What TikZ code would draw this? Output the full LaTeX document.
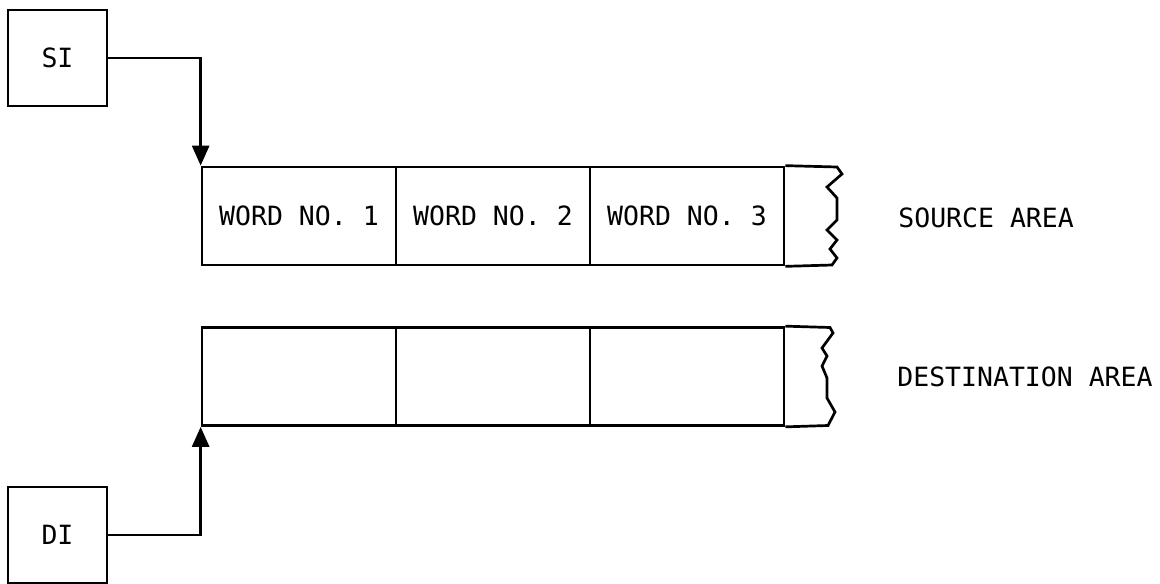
\documentclass[tikz,border=0pt]{standalone}
\usepackage{fontspec}
\newfontfamily\plotfont{DejaVu Sans Mono}
\usetikzlibrary{arrows.meta}
\begin{document}
\begin{tikzpicture}[x=1pt,y=-1pt, line width=2.7pt, line join=miter,
  txt/.style={font=\plotfont\fontsize{26.5}{30}\selectfont},
  regbox/.style={draw, txt, minimum width=99pt, minimum height=96pt, inner sep=0pt},
  cell/.style={draw, txt, minimum width=194pt, minimum height=98pt, inner sep=0pt},
  lbl/.style={txt, anchor=west, inner sep=0pt},
  arr/.style={-{Triangle[length=20pt,width=17pt]}}]
\useasboundingbox (0,0) rectangle (1160,584);
% registers
\node[regbox] (SI) at (57.5,58) {SI};
\node[regbox] (DI) at (57.5,535) {DI};
% source area
\node[cell] (s1) at (299,216) {WORD NO. 1};
\node[cell] (s2) at (493,216) {WORD NO. 2};
\node[cell] (s3) at (687,216) {WORD NO. 3};
\draw (s3.north east) -- (837,167) -- (842,174) -- (827,187) -- (837,198) -- (837,220)
  -- (827,230) -- (837,240) -- (830,249) -- (837,258) -- (832,265) -- (s3.south east);
\node[lbl] (src) at (897,218) {SOURCE AREA};
% destination area
\node[cell] (d1) at (299,376.5) {};
\node[cell] (d2) at (493,376.5) {};
\node[cell] (d3) at (687,376.5) {};
\draw (d3.north east) -- (830,327.5) -- (833,333) -- (822,348) -- (827,356) -- (822,366)
  -- (827,378) -- (827,398) -- (835,412) -- (828,425.5) -- (d3.south east);
\node[lbl] (dst) at (896,377) {DESTINATION AREA};
% connectors
\draw[arr] (SI.east) -| (s1.north west);
\draw[arr] (DI.east) -| (d1.south west);
\end{tikzpicture}
\end{document}
